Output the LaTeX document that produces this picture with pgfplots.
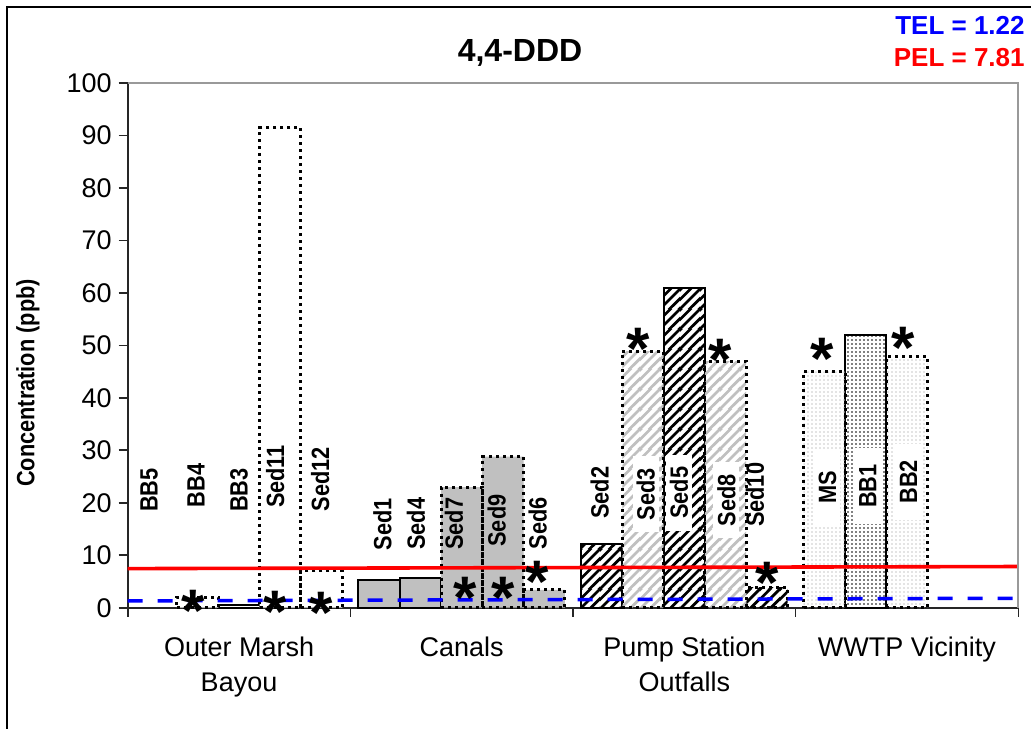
\documentclass[border=0pt]{standalone}
\usepackage{fontspec}
\setmainfont{Liberation Sans}
\newfontfamily\condb[FakeStretch=0.87]{Liberation Sans Bold}
\usepackage{pgfplots}
\pgfplotsset{compat=1.18}
\usetikzlibrary{patterns,patterns.meta}
\definecolor{silver}{HTML}{C0C0C0}
\definecolor{lightdot}{HTML}{C8C8C8}
\definecolor{telblue}{HTML}{0000FF}
\definecolor{pelred}{HTML}{FF0000}
\pgfdeclarepatternformonly{mystripes}{\pgfqpoint{0pt}{0pt}}{\pgfqpoint{10pt}{10pt}}{\pgfqpoint{10pt}{10pt}}{%
  \pgfsetlinewidth{1.4pt}%
  \pgfpathmoveto{\pgfqpoint{-11pt}{-1pt}}\pgfpathlineto{\pgfqpoint{1pt}{11pt}}%
  \pgfpathmoveto{\pgfqpoint{-6pt}{-1pt}}\pgfpathlineto{\pgfqpoint{6pt}{11pt}}%
  \pgfpathmoveto{\pgfqpoint{-1pt}{-1pt}}\pgfpathlineto{\pgfqpoint{11pt}{11pt}}%
  \pgfpathmoveto{\pgfqpoint{4pt}{-1pt}}\pgfpathlineto{\pgfqpoint{16pt}{11pt}}%
  \pgfpathmoveto{\pgfqpoint{9pt}{-1pt}}\pgfpathlineto{\pgfqpoint{21pt}{11pt}}%
  \pgfusepath{stroke}%
}
\tikzset{
  dotb/.style={draw=black, line width=1.5pt, dash pattern=on 1.5pt off 2pt},
  solb/.style={draw=black, line width=1pt},
}
\pgfplotsset{
  mybar/.style={ybar, bar width=0.1855, bar shift=0pt},
}
\begin{document}
\begin{tikzpicture}
\useasboundingbox (0,0) rectangle (515.5pt,364pt);
\draw[line width=0.8pt] (3.5pt,-5pt) -- (3.5pt,360.5pt) -- (520pt,360.5pt);
\begin{axis}[
  at={(63.85pt,60.15pt)}, anchor=south west,
  scale only axis, width=445.3pt, height=262.35pt,
  xmin=0, xmax=4, ymin=0, ymax=100,
  axis x line=bottom, axis y line=left,
  axis line style={-, line width=0.9pt, black!85},
  xtick={0,1,2,3,4}, xticklabels={},
  extra x ticks={0.5,1.5,2.5,3.5},
  extra x tick labels={{Outer Marsh\\Bayou},{Canals},{Pump Station\\Outfalls},{WWTP Vicinity}},
  extra x tick style={major tick length=0pt, xticklabel style={align=center, font=\fontsize{13.5}{17.5}\selectfont, anchor=north, inner sep=0pt, yshift=-14.5pt}},
  ytick={0,10,...,100},
  tick align=outside, major tick length=4.5pt,
  tick style={black!85, line width=0.8pt},
  yticklabel style={font=\fontsize{13.5}{14}\selectfont},
  /pgf/number format/assume math mode=true,
  clip=false,
]
% bars
\addplot[mybar, fill=white, solb] coordinates {(0.5,0.5)};
\addplot[mybar, fill=white, dotb] coordinates {(0.314,2.0) (0.685,91.5) (0.871,7.0)};
\addplot[mybar, fill=silver, solb] coordinates {(1.129,5.2) (1.314,5.6)};
\addplot[mybar, fill=silver, dotb] coordinates {(1.5,23.0) (1.685,28.8) (1.871,3.4)};
\addplot[mybar, solb, pattern=mystripes, pattern color=black] coordinates {(2.129,12.1) (2.5,61.0)};
\addplot[mybar, dotb, pattern=mystripes, pattern color=silver] coordinates {(2.314,48.9) (2.685,47.0)};
\addplot[mybar, dotb, pattern=mystripes, pattern color=black] coordinates {(2.871,3.8)};
\addplot[mybar, solb, pattern={Dots[distance=2pt,radius=0.45pt]}, pattern color=black] coordinates {(3.314,51.9)};
\addplot[mybar, dotb, pattern={Dots[distance=2pt,radius=0.4pt]}, pattern color=lightdot] coordinates {(3.129,45.0) (3.5,47.8)};
% guideline lines
\addplot[pelred, line width=1.8pt] coordinates {(0,7.45) (4,7.85)};
\addplot[telblue, line width=1.75pt, dash pattern=on 7.5pt off 7.5pt] coordinates {(0,1.3) (4,1.8)};
% labels without box
\addplot[draw=none, mark=none, nodes near coords, point meta=explicit symbolic,
  every node near coord/.append style={rotate=90, anchor=center, inner sep=0pt, font=\condb\fontsize{12.5}{12.5}\selectfont}]
  table[meta=lab] {
x y lab
0.096 22.4 BB5
0.307 23.3 BB4
0.500 22.4 BB3
0.662 25.0 Sed11
0.864 24.5 Sed12
1.144 15.9 Sed1
1.294 16.0 Sed4
1.465 16.0 Sed7
1.657 16.6 Sed9
1.841 16.1 Sed6
2.120 21.9 Sed2
2.817 21.5 Sed10
};
% labels with white box
\addplot[draw=none, mark=none, nodes near coords, point meta=explicit symbolic,
  every node near coord/.append style={rotate=90, anchor=center, inner sep=0pt, fill=white, minimum width=38pt, minimum height=13pt, font=\condb\fontsize{12.5}{12.5}\selectfont}]
  table[meta=lab] {
x y lab
2.327 21.6 Sed3
2.476 21.9 Sed5
2.689 20.5 Sed8
3.143 22.9 MS
3.324 23.2 BB1
3.506 24.0 BB2
};
% asterisks
\addplot[draw=none, mark=none, nodes near coords={\bfseries *},
  every node near coord/.append style={anchor=base, inner sep=0pt, yshift=-16.6pt, font=\fontsize{30}{30}\selectfont}]
  table {
x y
0.296 1.85
0.662 1.6
0.871 1.5
1.515 4.3
1.687 4.3
1.841 7.4
2.293 51.7
2.660 49.7
2.870 7.2
3.120 49.9
3.483 52.0
};
\draw[gray!80, line width=1pt] (rel axis cs:0,1) -- (rel axis cs:1,1) -- (rel axis cs:1,0);
\end{axis}
\node[rotate=90, font=\condb\fontsize{12.5}{12.5}\selectfont] at (14pt,172.5pt) {Concentration (ppb)};
\node[anchor=base, inner sep=0pt, font=\bfseries\fontsize{16}{16}\selectfont] at (260pt,333pt) {4,4-DDD};
\node[anchor=base east, inner sep=0pt, text=telblue, font=\bfseries\fontsize{13}{13}\selectfont] at (512.5pt,346.5pt) {TEL = 1.22};
\node[anchor=base east, inner sep=0pt, text=pelred, font=\bfseries\fontsize{13}{13}\selectfont] at (512.5pt,330.7pt) {PEL = 7.81};
\end{tikzpicture}
\end{document}
